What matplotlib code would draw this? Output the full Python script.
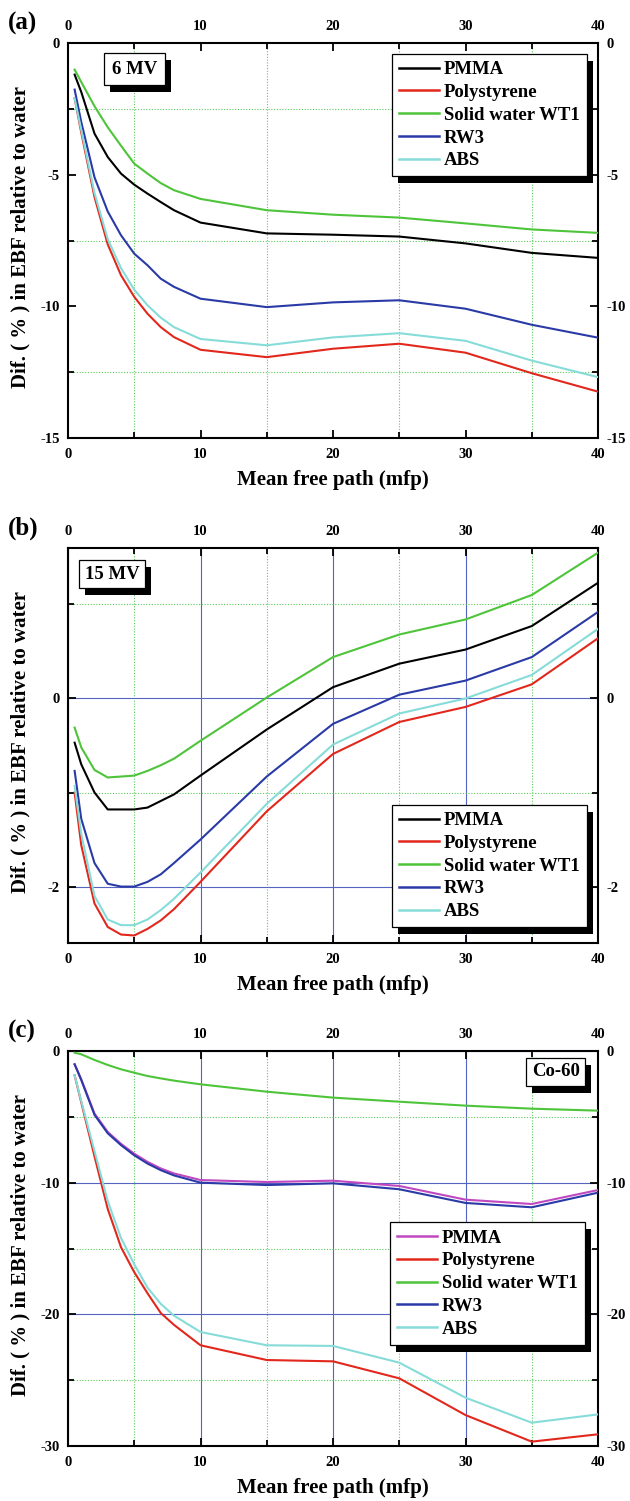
import matplotlib

matplotlib.use("Agg")
import matplotlib.pyplot as plt  # noqa: E402
from matplotlib.patches import Rectangle  # noqa: E402
from matplotlib.ticker import MultipleLocator  # noqa: E402
from matplotlib.transforms import IdentityTransform  # noqa: E402

plt.rcParams.update({
    "font.family": ["Liberation Serif", "DejaVu Serif"],
    "font.weight": "bold",
    "axes.labelweight": "bold",
    "axes.unicode_minus": False,
    "xtick.direction": "in",
    "ytick.direction": "in",
})

# mean free path sampling points
mfp = [0.5, 1, 2, 3, 4, 5, 6, 7, 8, 10, 15, 20, 25, 30, 35, 40]
materials = ["PMMA", "Polystyrene", "Solid water WT1", "RW3", "ABS"]

# 6 MV
pmma_6 = [-1.20, -1.86, -3.44, -4.33, -4.96, -5.38, -5.72, -6.04, -6.35, -6.82, -7.23, -7.28, -7.35, -7.61, -7.97, -8.16]
poly_6 = [-2.10, -3.40, -5.85, -7.65, -8.82, -9.64, -10.28, -10.79, -11.17, -11.65, -11.93, -11.61, -11.42, -11.76, -12.54, -13.24]
wt1_6 = [-1.01, -1.48, -2.40, -3.20, -3.90, -4.58, -4.96, -5.32, -5.59, -5.92, -6.35, -6.52, -6.63, -6.85, -7.08, -7.21]
rw3_6 = [-1.77, -3.00, -5.10, -6.40, -7.30, -8.00, -8.44, -8.95, -9.26, -9.71, -10.03, -9.85, -9.77, -10.09, -10.70, -11.19]
abs_6 = [-2.10, -3.30, -5.70, -7.45, -8.55, -9.37, -9.96, -10.43, -10.79, -11.24, -11.48, -11.18, -11.02, -11.31, -12.06, -12.69]

# 15 MV
pmma_15 = [-0.47, -0.70, -1.00, -1.18, -1.18, -1.18, -1.16, -1.09, -1.02, -0.82, -0.33, 0.12, 0.37, 0.52, 0.77, 1.23]
poly_15 = [-1.00, -1.56, -2.18, -2.43, -2.51, -2.52, -2.45, -2.36, -2.24, -1.95, -1.20, -0.59, -0.25, -0.09, 0.15, 0.64]
wt1_15 = [-0.31, -0.52, -0.76, -0.84, -0.83, -0.82, -0.77, -0.71, -0.64, -0.45, 0.01, 0.44, 0.68, 0.84, 1.10, 1.55]
rw3_15 = [-0.77, -1.28, -1.75, -1.97, -2.00, -2.00, -1.95, -1.87, -1.75, -1.50, -0.83, -0.27, 0.04, 0.19, 0.44, 0.92]
abs_15 = [-0.93, -1.44, -2.10, -2.35, -2.41, -2.41, -2.35, -2.25, -2.13, -1.85, -1.12, -0.49, -0.16, 0.00, 0.25, 0.74]

# Co-60
pmma_co = [-1.01, -2.15, -4.75, -6.15, -7.05, -7.80, -8.42, -8.92, -9.30, -9.80, -9.95, -9.85, -10.25, -11.29, -11.62, -10.56]
poly_co = [-1.85, -3.90, -8.00, -12.00, -14.90, -16.80, -18.40, -19.90, -20.80, -22.35, -23.47, -23.57, -24.86, -27.65, -29.67, -29.11]
wt1_co = [-0.13, -0.25, -0.68, -1.06, -1.39, -1.65, -1.90, -2.08, -2.25, -2.53, -3.09, -3.54, -3.85, -4.15, -4.38, -4.53]
rw3_co = [-1.01, -2.20, -4.85, -6.25, -7.15, -7.92, -8.55, -9.05, -9.45, -10.00, -10.18, -10.05, -10.50, -11.54, -11.87, -10.76]
abs_co = [-1.85, -3.80, -7.60, -11.40, -14.20, -16.20, -17.97, -19.20, -20.10, -21.34, -22.35, -22.40, -23.67, -26.33, -28.23, -27.60]

RED, GREEN, BLUE, CYAN = "#e2281c", "#4ec43a", "#2a3aa6", "#86dcd8"
GRID_MAJ, GRID_MIN = "#5464c0", "#5ccc5c"

panels = [
    dict(tag="(a)", beam="6 MV", series=[pmma_6, poly_6, wt1_6, rw3_6, abs_6],
         colors=["k", RED, GREEN, BLUE, CYAN], ylim=(-15, 0), major=5, minor=2.5,
         major_grid=False, beam_xy=(0.125, 0.934), beam_pad=0.42,
         leg=dict(loc="upper right", bbox_to_anchor=(0.979, 0.972))),
    dict(tag="(b)", beam="15 MV", series=[pmma_15, poly_15, wt1_15, rw3_15, abs_15],
         colors=["k", RED, GREEN, BLUE, CYAN], ylim=(-2.6, 1.6), major=2, minor=1,
         major_grid=True, beam_xy=(0.083, 0.934), beam_pad=0.3,
         leg=dict(loc="lower right", bbox_to_anchor=(0.979, 0.04))),
    dict(tag="(c)", beam="Co-60", series=[pmma_co, poly_co, wt1_co, rw3_co, abs_co],
         colors=["#c048c0", RED, GREEN, BLUE, CYAN], ylim=(-30, 0), major=10, minor=5,
         major_grid=True, beam_xy=(0.92, 0.947), beam_pad=0.3,
         leg=dict(loc="upper right", bbox_to_anchor=(0.975, 0.566))),
]

W, H = 630, 1501
fig = plt.figure(figsize=(W / 100, H / 100), dpi=100)
tops = [43, 548, 1051]
ax_h = 395

shadowed = []
for p, top in zip(panels, tops):
    ax = fig.add_axes([68 / W, 1 - (top + ax_h) / H, 530 / W, ax_h / H])
    for vals, col, lab in zip(p["series"], p["colors"], materials):
        ax.plot(mfp, vals, color=col, lw=1.5, label=lab, zorder=3)

    ax.set_xlim(0, 40)
    ax.set_ylim(*p["ylim"])
    ax.xaxis.set_major_locator(MultipleLocator(10))
    ax.xaxis.set_minor_locator(MultipleLocator(5))
    ax.yaxis.set_major_locator(MultipleLocator(p["major"]))
    ax.yaxis.set_minor_locator(MultipleLocator(p["minor"]))
    ax.tick_params(which="both", top=True, right=True, width=1.3)
    ax.tick_params(which="major", length=6, labelsize=10.5)
    ax.tick_params(which="minor", length=4)
    ax.tick_params(axis="x", which="major", labeltop=True, pad=7)
    ax.tick_params(axis="y", which="major", labelright=True, pad=6)
    for s in ax.spines.values():
        s.set_linewidth(1.5)

    ax.grid(which="minor", color=GRID_MIN, lw=0.8, ls=(0, (1, 1.5)), zorder=1)
    if p["major_grid"]:
        ax.grid(which="major", color=GRID_MAJ, lw=0.8, zorder=1)
    ax.set_axisbelow(True)

    ax.set_xlabel("Mean free path (mfp)", fontsize=15)
    ax.xaxis.set_label_coords(0.5, -0.082)
    ax.set_ylabel("Dif. ( % ) in EBF relative to water", fontsize=15)
    ax.yaxis.set_label_coords(-0.07, 0.51)

    fig.text(8 / W, 1 - (top - 20) / H, p["tag"], fontsize=18, fontweight="bold",
             ha="left", va="center")

    t = ax.text(*p["beam_xy"], p["beam"], transform=ax.transAxes, fontsize=13.5,
                ha="center", va="center", zorder=6,
                bbox=dict(boxstyle=f"square,pad={p['beam_pad']}", fc="w", ec="k", lw=0.9))

    leg = ax.legend(fontsize=13.5, frameon=True, fancybox=False, framealpha=1,
                    edgecolor="k", borderaxespad=0, borderpad=0.38,
                    labelspacing=0.3, handlelength=2.15, handletextpad=0.25,
                    **p["leg"])
    leg.get_frame().set_linewidth(0.9)
    for h in leg.get_lines():
        h.set_linewidth(1.8)
    shadowed.append((ax, t, leg))

# solid black drop shadows behind the legend and beam label boxes
fig.canvas.draw()
renderer = fig.canvas.get_renderer()
for ax, t, leg in shadowed:
    for patch, z in ((leg.get_frame(), 4.9), (t.get_bbox_patch(), 5.9)):
        bb = patch.get_window_extent(renderer)
        ax.add_artist(Rectangle((bb.x0 + 6, bb.y0 - 7), bb.width, bb.height,
                                transform=IdentityTransform(), fc="k", ec="k",
                                lw=0, zorder=z))

fig.savefig("out.png", dpi=100)
